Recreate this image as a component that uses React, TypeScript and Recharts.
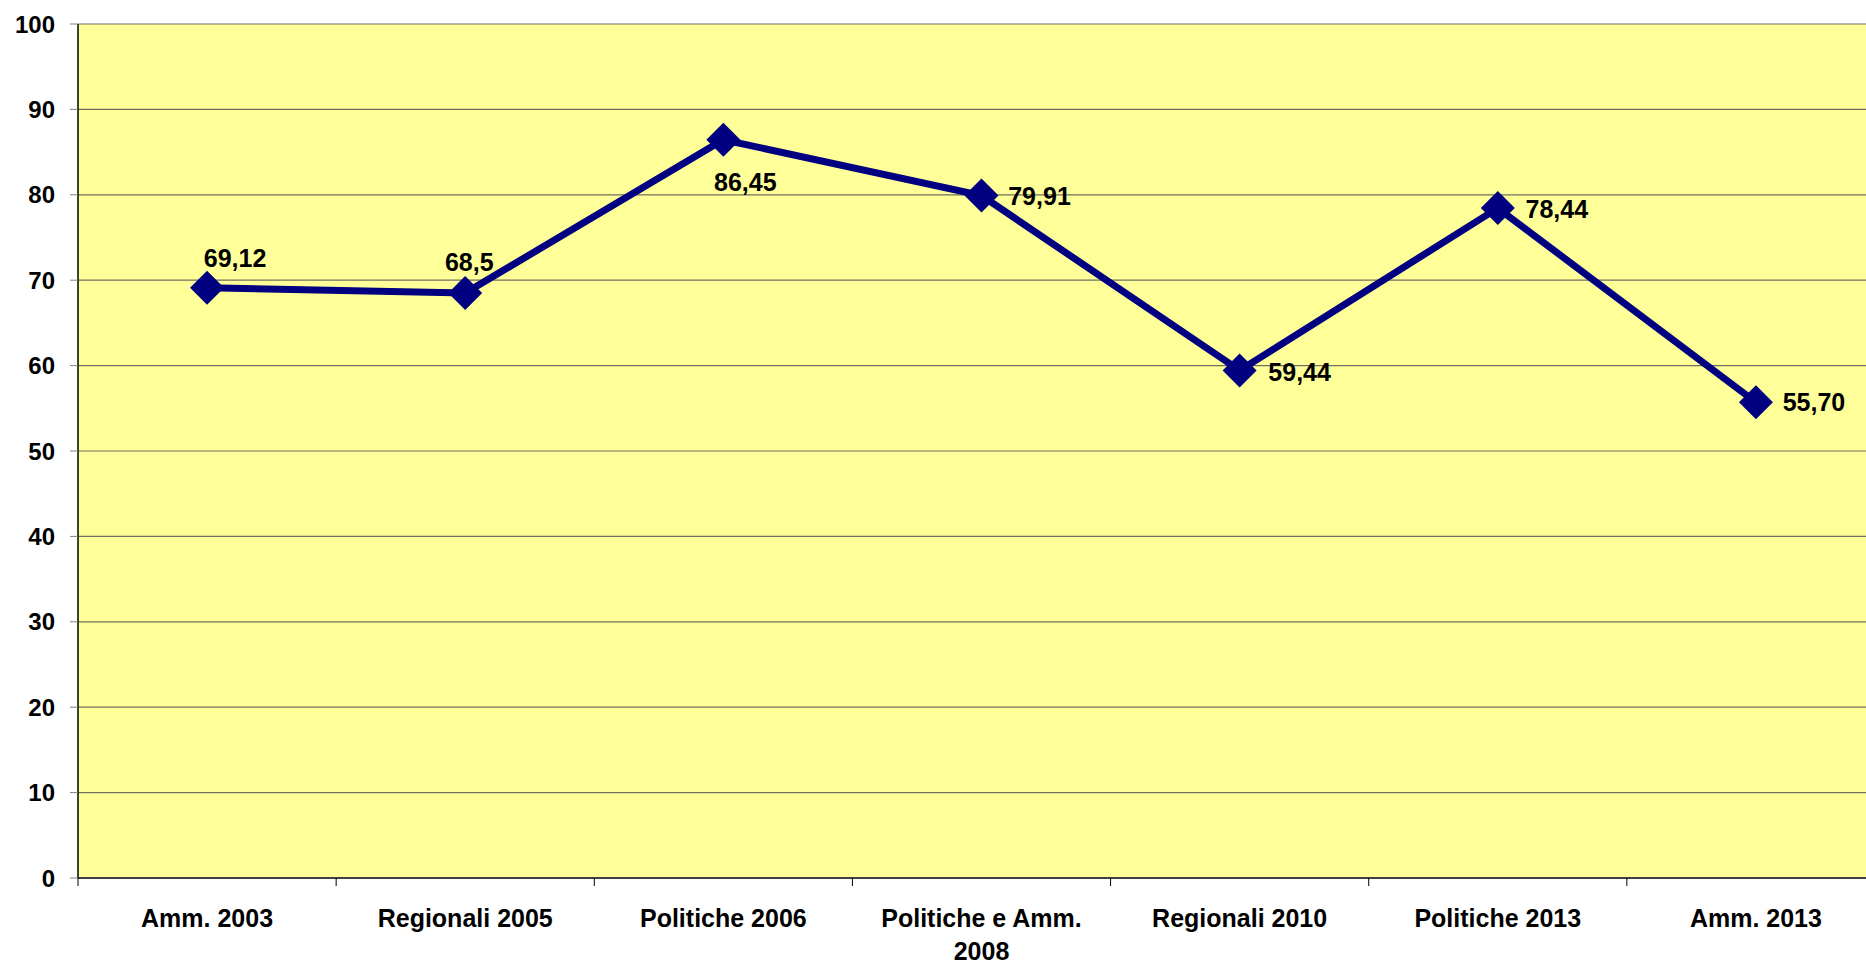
import React from 'react';
import {
  LineChart,
  Line,
  XAxis,
  YAxis,
  CartesianGrid,
  LabelList,
} from 'recharts';

const categories = [
  'Amm. 2003',
  'Regionali 2005',
  'Politiche 2006',
  'Politiche e Amm.\n2008',
  'Regionali 2010',
  'Politiche 2013',
  'Amm. 2013',
];
const turnout = [69.12, 68.5, 86.45, 79.91, 59.44, 78.44, 55.7];
const turnoutLabels = ['69,12', '68,5', '86,45', '79,91', '59,44', '78,44', '55,70'];
const yTicks = [0, 10, 20, 30, 40, 50, 60, 70, 80, 90, 100];

const data = categories.map((name, i) => ({ name, value: turnout[i] }));

// where each data label sits relative to its point (dx, dy of text centre)
const labelOffsets = [
  [28, -30],
  [4, -31],
  [22, 42],
  [58, 0],
  [60, 2],
  [59, 1],
  [58, 0],
];

const W = 1900;
const H = 965;
const Y_AXIS_W = 78;
const MARGIN = { top: 24, right: 15, left: 0, bottom: 0 };
const PLOT_W = W - MARGIN.left - MARGIN.right - Y_AXIS_W;
const STEP = PLOT_W / categories.length;
const FONT = '"Liberation Sans", Arial, sans-serif';
const NAVY = '#000080';

const Diamond = (props: any) => {
  const { cx, cy, index } = props;
  if (cx == null || cy == null) return null;
  const r = 17;
  return (
    <polygon
      key={'d' + index}
      points={`${cx},${cy - r} ${cx + r},${cy} ${cx},${cy + r} ${cx - r},${cy}`}
      fill={NAVY}
    />
  );
};

const ValueLabel = (props: any) => {
  const { x, y, index } = props;
  const [dx, dy] = labelOffsets[index] || [0, -25];
  return (
    <text
      x={x + dx}
      y={y + dy}
      textAnchor="middle"
      dominantBaseline="central"
      fontFamily={FONT}
      fontWeight="bold"
      fontSize={25}
      fill="#000"
    >
      {turnoutLabels[index]}
    </text>
  );
};

const CategoryTick = (props: any) => {
  const { x, y, payload, index } = props;
  const lines = String(payload.value).split('\n');
  const axisY = y - 8;
  const left = x - STEP / 2;
  const right = x + STEP / 2;
  return (
    <g>
      <line x1={left} x2={left} y1={axisY} y2={axisY + 8} stroke="#000" strokeWidth={1} />
      {index === categories.length - 1 && (
        <line x1={right} x2={right} y1={axisY} y2={axisY + 8} stroke="#000" strokeWidth={1} />
      )}
      <text
        x={x}
        y={axisY + 49}
        textAnchor="middle"
        fontFamily={FONT}
        fontWeight="bold"
        fontSize={25}
        fill="#000"
      >
        {lines.map((l, i) => (
          <tspan key={i} x={x} dy={i === 0 ? 0 : 33}>
            {l}
          </tspan>
        ))}
      </text>
    </g>
  );
};

export default function App() {
  return (
    <div
      style={{
        position: 'absolute',
        left: 0,
        top: 0,
        width: 1866,
        height: 965,
        overflow: 'hidden',
        background: '#fff',
      }}
    >
      <LineChart width={W} height={H} data={data} margin={MARGIN}>
        <CartesianGrid
          vertical={false}
          fill="#FFFF99"
          stroke="#707060"
          strokeWidth={1.2}
          fillOpacity={1}
        />
        <XAxis
          dataKey="name"
          interval={0}
          height={87}
          padding={{ left: STEP / 2, right: STEP / 2 }}
          axisLine={{ stroke: '#404040', strokeWidth: 2 }}
          tickLine={{ stroke: 'none' }}
          tickSize={8}
          tickMargin={0}
          tick={<CategoryTick />}
        />
        <YAxis
          width={Y_AXIS_W}
          domain={[0, 100]}
          ticks={yTicks}
          interval={0}
          axisLine={{ stroke: '#000', strokeWidth: 1.5 }}
          tickLine={{ stroke: '#808080' }}
          tickSize={8}
          tickMargin={15}
          tick={{ fontFamily: FONT, fontWeight: 'bold', fontSize: 24, fill: '#000' }}
        />
        <Line
          type="linear"
          dataKey="value"
          stroke={NAVY}
          strokeWidth={7}
          dot={Diamond}
          activeDot={false}
          isAnimationActive={false}
        >
          <LabelList dataKey="value" content={ValueLabel} />
        </Line>
      </LineChart>
    </div>
  );
}
